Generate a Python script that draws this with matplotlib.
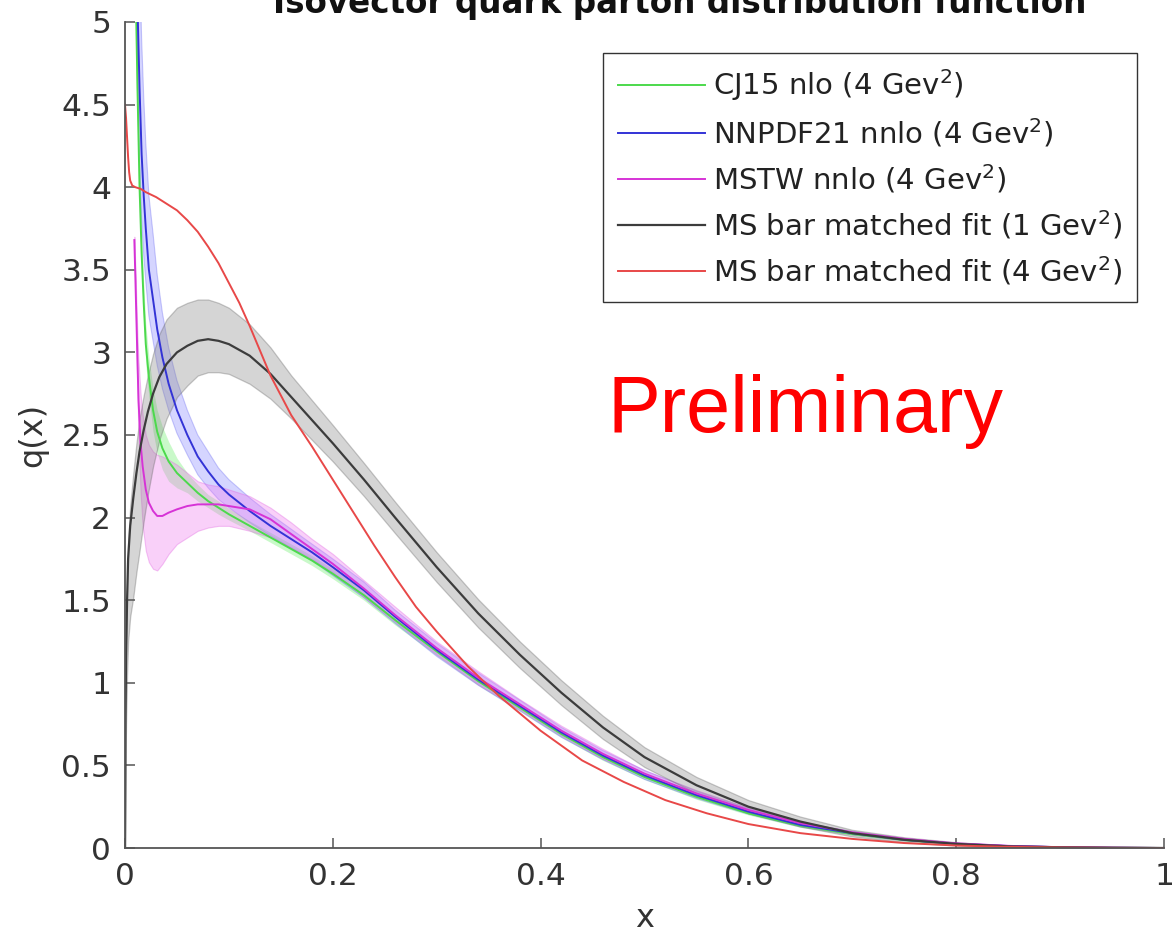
import numpy as np
import matplotlib
matplotlib.use("Agg")
import matplotlib.pyplot as plt

# Common x grid for the three global PDF sets
x_pdf = [0.010, 0.012, 0.014, 0.016, 0.018, 0.020, 0.023, 0.027, 0.031, 0.036,
         0.042, 0.050, 0.060, 0.070, 0.080, 0.090, 0.100, 0.120, 0.140, 0.160,
         0.180, 0.200, 0.230, 0.260, 0.300, 0.340, 0.380, 0.420, 0.460, 0.500,
         0.550, 0.600, 0.650, 0.700, 0.750, 0.800, 0.850, 0.900, 0.950, 1.000]

# NNPDF21 nnlo (4 GeV^2)
nnpdf = [6.20, 5.10, 4.60, 4.20, 3.95, 3.75, 3.50, 3.32, 3.14, 2.97,
         2.81, 2.65, 2.50, 2.37, 2.28, 2.20, 2.14, 2.04, 1.95, 1.87,
         1.79, 1.70, 1.56, 1.40, 1.20, 1.02, 0.86, 0.70, 0.56, 0.44,
         0.32, 0.22, 0.14, 0.09, 0.05, 0.025, 0.012, 0.005, 0.002, 0.0]
nnpdf_up = [1.20, 1.00, 0.80, 0.70, 0.60, 0.52, 0.45, 0.40, 0.33, 0.27,
            0.22, 0.18, 0.15, 0.13, 0.12, 0.10, 0.09, 0.08, 0.07, 0.06,
            0.05, 0.05, 0.05, 0.04, 0.04, 0.04, 0.035, 0.03, 0.03, 0.03,
            0.025, 0.02, 0.015, 0.01, 0.008, 0.005, 0.003, 0.002, 0.001, 0.0]
nnpdf_dn = [0.60, 0.50, 0.45, 0.40, 0.36, 0.32, 0.28, 0.25, 0.22, 0.19,
            0.16, 0.14, 0.12, 0.11, 0.10, 0.09, 0.08, 0.07, 0.06, 0.055,
            0.05, 0.05, 0.045, 0.04, 0.04, 0.035, 0.03, 0.03, 0.025, 0.025,
            0.02, 0.015, 0.012, 0.01, 0.006, 0.004, 0.002, 0.001, 0.0, 0.0]

# CJ15 nlo (4 GeV^2)
cj15 = [5.30, 4.60, 4.00, 3.60, 3.30, 3.05, 2.85, 2.65, 2.52, 2.42,
        2.34, 2.27, 2.21, 2.15, 2.10, 2.06, 2.02, 1.95, 1.88, 1.81,
        1.74, 1.66, 1.53, 1.38, 1.19, 1.01, 0.85, 0.69, 0.55, 0.43,
        0.31, 0.21, 0.135, 0.085, 0.048, 0.024, 0.011, 0.005, 0.002, 0.0]
cj15_err = [0.15, 0.14, 0.13, 0.12, 0.12, 0.12, 0.12, 0.13, 0.13, 0.13,
            0.12, 0.09, 0.06, 0.05, 0.04, 0.04, 0.035, 0.03, 0.03, 0.03,
            0.03, 0.03, 0.03, 0.03, 0.025, 0.025, 0.02, 0.02, 0.02, 0.015,
            0.015, 0.01, 0.01, 0.008, 0.005, 0.003, 0.002, 0.001, 0.0, 0.0]

# MSTW nnlo (4 GeV^2)
x_mstw = [0.009, 0.010, 0.011, 0.012, 0.013, 0.015, 0.017, 0.020, 0.023, 0.027,
          0.031, 0.036, 0.042, 0.050, 0.060, 0.070, 0.080, 0.090, 0.100, 0.120,
          0.140, 0.160, 0.180, 0.200, 0.230, 0.260, 0.300, 0.340, 0.380, 0.420,
          0.460, 0.500, 0.550, 0.600, 0.650, 0.700, 0.750, 0.800, 0.850, 0.900,
          0.950, 1.000]
mstw = [3.68, 3.45, 3.20, 2.95, 2.71, 2.45, 2.31, 2.17, 2.09, 2.04,
        2.01, 2.01, 2.03, 2.05, 2.07, 2.08, 2.08, 2.08, 2.07, 2.05,
        1.99, 1.90, 1.81, 1.72, 1.57, 1.41, 1.21, 1.03, 0.87, 0.71,
        0.57, 0.45, 0.33, 0.23, 0.15, 0.095, 0.055, 0.028, 0.013, 0.005,
        0.002, 0.0]
mstw_hi = [3.70, 3.50, 3.30, 3.10, 2.95, 2.75, 2.62, 2.50, 2.44, 2.40,
           2.38, 2.37, 2.35, 2.32, 2.27, 2.22, 2.20, 2.19, 2.17, 2.13,
           2.06, 1.97, 1.87, 1.78, 1.62, 1.46, 1.25, 1.07, 0.90, 0.74,
           0.60, 0.47, 0.35, 0.245, 0.16, 0.10, 0.06, 0.03, 0.014, 0.006,
           0.002, 0.0]
mstw_lo = [3.66, 3.40, 3.05, 2.75, 2.50, 2.15, 1.95, 1.80, 1.73, 1.69,
           1.68, 1.72, 1.78, 1.84, 1.88, 1.92, 1.94, 1.95, 1.95, 1.92,
           1.88, 1.82, 1.75, 1.67, 1.52, 1.37, 1.17, 0.99, 0.84, 0.68,
           0.54, 0.43, 0.31, 0.215, 0.14, 0.09, 0.05, 0.026, 0.012, 0.004,
           0.001, 0.0]

# MS bar matched fit at 1 GeV^2
x_ms1 = [0.0, 0.0005, 0.001, 0.002, 0.003, 0.005, 0.008, 0.011, 0.014, 0.018,
         0.022, 0.027, 0.033, 0.040, 0.050, 0.060, 0.070, 0.080, 0.090, 0.100,
         0.120, 0.140, 0.160, 0.180, 0.200, 0.230, 0.260, 0.300, 0.340, 0.380,
         0.420, 0.460, 0.500, 0.550, 0.600, 0.650, 0.700, 0.750, 0.800, 0.850,
         0.900, 0.950, 1.000]
ms1 = [0.0, 0.80, 1.15, 1.50, 1.75, 1.95, 2.12, 2.27, 2.40, 2.53,
       2.64, 2.75, 2.85, 2.93, 3.00, 3.04, 3.07, 3.08, 3.07, 3.05,
       2.98, 2.87, 2.73, 2.59, 2.45, 2.23, 2.00, 1.70, 1.42, 1.17,
       0.94, 0.73, 0.55, 0.38, 0.25, 0.16, 0.09, 0.05, 0.025, 0.01,
       0.004, 0.001, 0.0]
ms1_up = [0.05, 0.06, 0.08, 0.10, 0.10, 0.12, 0.15, 0.18, 0.20, 0.21,
          0.22, 0.24, 0.26, 0.27, 0.27, 0.26, 0.25, 0.24, 0.23, 0.22,
          0.19, 0.16, 0.13, 0.12, 0.11, 0.10, 0.095, 0.09, 0.085, 0.08,
          0.075, 0.07, 0.06, 0.05, 0.04, 0.03, 0.02, 0.015, 0.01, 0.005,
          0.002, 0.001, 0.0]
ms1_dn = [0.0, 0.30, 0.40, 0.45, 0.50, 0.55, 0.60, 0.60, 0.60, 0.55,
          0.50, 0.44, 0.38, 0.33, 0.27, 0.24, 0.21, 0.20, 0.19, 0.18,
          0.17, 0.15, 0.13, 0.12, 0.11, 0.10, 0.095, 0.09, 0.085, 0.08,
          0.075, 0.07, 0.06, 0.05, 0.04, 0.03, 0.02, 0.015, 0.01, 0.005,
          0.002, 0.001, 0.0]

# MS bar matched fit evolved to 4 GeV^2
x_ms4 = [0.0, 0.001, 0.002, 0.003, 0.004, 0.005, 0.007, 0.010, 0.015, 0.020,
         0.030, 0.040, 0.050, 0.060, 0.070, 0.080, 0.090, 0.100, 0.110, 0.120,
         0.130, 0.140, 0.160, 0.180, 0.200, 0.220, 0.240, 0.260, 0.280, 0.300,
         0.330, 0.360, 0.400, 0.440, 0.480, 0.520, 0.560, 0.600, 0.650, 0.700,
         0.750, 0.800, 0.850, 0.900, 0.950, 1.000]
ms4 = [4.50, 4.42, 4.30, 4.18, 4.09, 4.04, 4.01, 4.00, 3.99, 3.97,
       3.94, 3.90, 3.86, 3.80, 3.73, 3.64, 3.54, 3.42, 3.30, 3.16,
       3.01, 2.86, 2.62, 2.43, 2.23, 2.03, 1.83, 1.64, 1.46, 1.31,
       1.10, 0.92, 0.71, 0.53, 0.40, 0.29, 0.21, 0.145, 0.09, 0.055,
       0.03, 0.015, 0.007, 0.003, 0.001, 0.0]

c_green = "#4cd94c"
c_blue = "#3333d6"
c_mag = "#d633d6"
c_black = "#3c3c3c"
c_red = "#e84848"

W, H = 1175, 936
fig = plt.figure(figsize=(W / 100, H / 100), dpi=100)
ax = fig.add_axes([125 / W, 1 - 848 / H, (1164 - 125) / W, (848 - 22) / H])

xp = np.array(x_pdf)
xm = np.array(x_mstw)
x1 = np.array(x_ms1)

# error bands
ax.fill_between(xp, np.array(cj15) - cj15_err, np.array(cj15) + cj15_err,
                color="#66ee66", alpha=0.35, lw=0)
ax.fill_between(xp, np.array(nnpdf) - nnpdf_dn, np.array(nnpdf) + nnpdf_up,
                facecolor="#7777ff", alpha=0.3, edgecolor="#5555ee", lw=0.8)
ax.fill_between(xm, mstw_lo, mstw_hi,
                facecolor="#f07af0", alpha=0.35, edgecolor="#e060e0", lw=0.8)
ax.fill_between(x1, np.array(ms1) - ms1_dn, np.array(ms1) + ms1_up,
                facecolor="#888888", alpha=0.35, edgecolor="#666666", lw=0.9)

# central curves
ax.plot(xp, cj15, color=c_green, lw=1.4, label=r"CJ15 nlo (4 Gev$^2$)")
ax.plot(xp, nnpdf, color=c_blue, lw=1.4, label=r"NNPDF21 nnlo (4 Gev$^2$)")
ax.plot(xm, mstw, color=c_mag, lw=1.4, label=r"MSTW nnlo (4 Gev$^2$)")
ax.plot(x1, ms1, color=c_black, lw=1.6, label=r"MS bar matched fit (1 Gev$^2$)")
ax.plot(x_ms4, ms4, color=c_red, lw=1.4, label=r"MS bar matched fit (4 Gev$^2$)")

ax.set_xlim(0, 1)
ax.set_ylim(0, 5)
ax.set_xticks([0, 0.2, 0.4, 0.6, 0.8, 1])
ax.set_xticklabels(["0", "0.2", "0.4", "0.6", "0.8", "1"])
ax.set_yticks(np.arange(0, 5.01, 0.5))
ax.set_yticklabels(["0", "0.5", "1", "1.5", "2", "2.5", "3", "3.5", "4", "4.5", "5"])
for s in ["top", "right"]:
    ax.spines[s].set_visible(False)
for s in ["left", "bottom"]:
    ax.spines[s].set_color("#555555")
    ax.spines[s].set_linewidth(1.3)
ax.tick_params(direction="in", length=7, width=1.1, color="#555555",
               labelsize=22.5, labelcolor="#333333", pad=10)

ax.set_xlabel("x", fontsize=23, color="#333333", labelpad=9)
ax.set_ylabel("q(x)", fontsize=23, color="#333333", labelpad=9)

leg = ax.legend(loc="upper right", bbox_to_anchor=(1137 / W, 1 - 53 / H),
                bbox_transform=fig.transFigure, borderaxespad=0,
                fancybox=False, edgecolor="#333333", framealpha=1,
                fontsize=21, handlelength=3.0, handletextpad=0.27,
                labelspacing=0.45, borderpad=0.5)
leg.get_frame().set_linewidth(1.0)
for t in leg.get_texts():
    t.set_color("#222222")

ax.text(0.655, 2.52, "Preliminary", color="#ff0000", fontsize=57,
        family="Liberation Sans", ha="center", va="baseline")

fig.text(680 / W, 1 - 13 / H, "Isovector quark parton distribution function",
         fontsize=23.5, fontweight="bold", color="#111111", ha="center",
         va="baseline")

fig.savefig("out.png", dpi=100)
